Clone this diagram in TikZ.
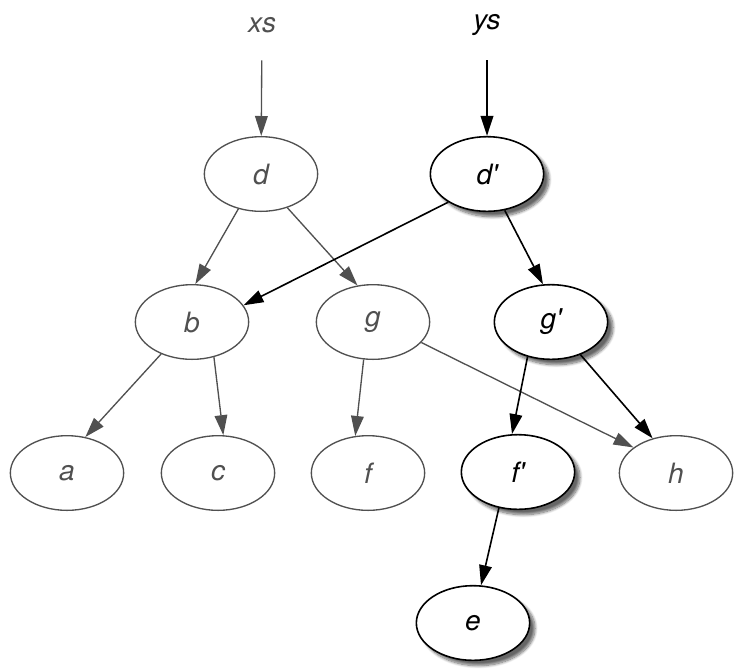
\documentclass[tikz,border=0pt]{standalone}
\usepackage{fontspec}
\setmainfont{TeX Gyre Heros}
\usepackage{tikz}
\usetikzlibrary{arrows.meta, shapes}
\usetikzlibrary{shadows.blur}

\definecolor{oldgray}{HTML}{505050}

\begin{document}
\begin{tikzpicture}[x=0.75pt, y=-0.75pt, font=\fontsize{21}{25}\selectfont\itshape]

\tikzset{
  % nodes of the old tree (shared) and of the new path
  old node/.style={ellipse, draw=oldgray, line width=1pt, text=oldgray,
    minimum width=85pt, minimum height=56pt, inner sep=0pt},
  new node/.style={ellipse, draw=black, line width=1.2pt, fill=white,
    minimum width=85pt, minimum height=56pt, inner sep=0pt,
    blur shadow={shadow xshift=4pt, shadow yshift=-4pt,
      shadow blur steps=10, shadow opacity=60}},
  % the two root names
  root name/.style={inner sep=0pt, minimum height=52.5pt},
  old edge/.style={draw=oldgray, line width=1pt,
    -{Triangle[length=15pt, width=9.5pt]}},
  new edge/.style={draw=black, line width=1.2pt,
    -{Triangle[length=15pt, width=9.5pt]}},
}

\useasboundingbox (0,0) rectangle (734,669);

\node[root name, text=oldgray] (xs) at (262,25) {xs};
\node[root name] (ys) at (487,25) {ys};

\node[old node] (d) at (261,174) {d};
\node[new node] (d') at (487,174) {d\textquotesingle};

\node[old node] (b) at (192,322) {b};
\node[old node] (g) at (373,322) {g};
\node[new node] (g') at (551,322) {g\textquotesingle};

\node[old node] (a) at (67,473) {a};
\node[old node] (c) at (218,473) {c};
\node[old node] (f) at (368,473) {f};
\node[new node] (f') at (518,472) {f\textquotesingle};
\node[old node] (h) at (676,473) {h};

\node[new node] (e) at (473,623) {e};

% old tree
\draw[old edge] (xs) -- (d);
\draw[old edge] (d.237) -- (b.85);
\draw[old edge] (d.308) -- (g.113);
\draw[old edge] (b.226) -- (a.63);
\draw[old edge] (b.302) -- (c.82);
\draw[old edge] (g.256) -- (f.109);
\draw[old edge] (g.337) -- (h.149);

% new path
\draw[new edge] (ys) -- (d');
\draw[new edge] (d'.216) -- (b.18);
\draw[new edge] (d'.296) -- (g'.102);
\draw[new edge] (g'.236) -- (f'.99);
\draw[new edge] (g'.312) -- (h.124);
\draw[new edge] (f'.242) -- (e.78);

\end{tikzpicture}
\end{document}
